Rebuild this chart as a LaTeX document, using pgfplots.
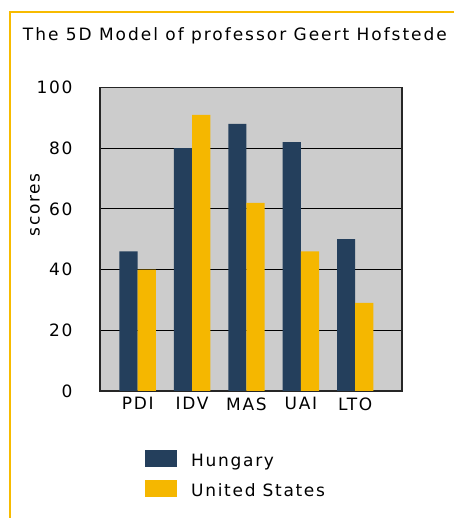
\documentclass[border=0pt]{standalone}
\usepackage{fontspec}
\setmainfont{DejaVu Sans}[LetterSpace=10]
\newfontfamily\titlefont{DejaVu Sans}[LetterSpace=11.6]
\usepackage{pgfplots}
\pgfplotsset{compat=1.18}
\definecolor{hun}{RGB}{36,63,92}
\definecolor{usa}{RGB}{245,183,0}
\definecolor{bgc}{RGB}{204,204,204}
\definecolor{frame}{RGB}{247,187,0}
\begin{document}
\begin{tikzpicture}[font=\fontsize{17bp}{20bp}\selectfont]
\useasboundingbox (0bp,0bp) rectangle (454bp,518bp);
\draw[frame, line width=2.2bp] (10bp,0bp) -- (10bp,506bp) -- (455bp,506bp);
\node[anchor=base west, inner sep=0pt, font=\titlefont\fontsize{17bp}{20bp}\selectfont] at (22.7bp,477bp) {The 5D Model of professor Geert Hofstede};
\begin{axis}[
  at={(100bp,127bp)}, anchor=south west,
  scale only axis, width=302bp, height=303.5bp,
  xmin=-0.693, xmax=4.86, ymin=0, ymax=100,
  ytick={0,20,...,100},
  xtick={0,1,2,3,4},
  xticklabels={PDI,IDV,MAS,UAI,LTO},
  ymajorgrids,
  grid style={black, line width=0.9bp},
  axis background/.style={fill=bgc},
  axis line style={black!85, line width=1.3bp},
  major tick length=0pt,
  /pgf/number format/assume math mode=true,
  tick label style={font=\fontsize{17bp}{20bp}\selectfont},
  yticklabel style={anchor=east, xshift=-24bp},
  xticklabel style={anchor=north, yshift=-3bp},
  ylabel={scores},
  ylabel style={at={(axis description cs:-0.215,0.613)}, anchor=center, rotate=0},
  legend style={at={(axis description cs:0.149,-0.195)}, anchor=north west,
    draw=none, fill=none, inner sep=0pt, row sep=9.5bp,
    nodes={inner sep=0pt, text height=13bp, text depth=4bp},
    font=\fontsize{17bp}{20bp}\selectfont},
  legend cell align=left,
  legend image code/.code={\fill[#1] (0bp,-5bp) rectangle (32bp,11.7bp); \path (46bp,0bp);},
]
\addplot[ybar, bar width=18.2bp, bar shift=-9.1bp, fill=hun, draw=none]
  coordinates {(0,46) (1,80) (2,88) (3,82) (4,50)};
\addplot[ybar, bar width=18.2bp, bar shift=9.1bp, fill=usa, draw=none]
  coordinates {(0,40) (1,91) (2,62) (3,46) (4,29)};
\legend{Hungary, United States}
\end{axis}
\end{tikzpicture}
\end{document}
